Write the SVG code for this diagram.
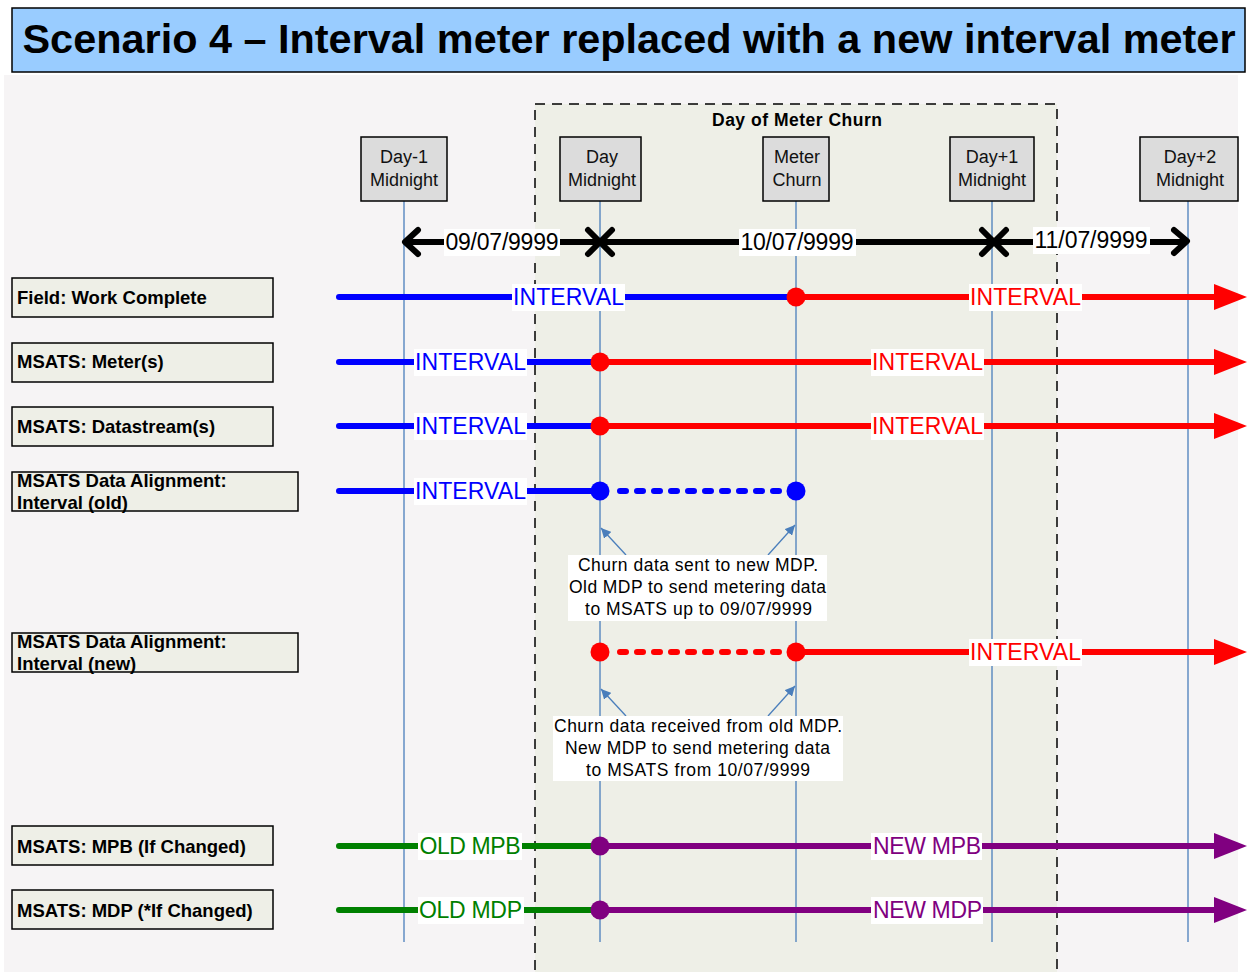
<svg xmlns="http://www.w3.org/2000/svg" width="1247" height="972" viewBox="0 0 1247 972">
<defs>
<style>
.t{font-family:"Liberation Sans",Arial,sans-serif}
.hdr{fill:#dcdcdc;stroke:#000;stroke-width:1.5}
.hdrt{font-family:"Liberation Sans",Arial,sans-serif;font-size:18px;fill:#111;text-anchor:middle}
.lbl{fill:#eeefe7;stroke:#000;stroke-width:1.5}
.lblt{font-family:"Liberation Sans",Arial,sans-serif;font-size:18.5px;font-weight:bold;fill:#000}
.vl{stroke:#4a7ebb;stroke-width:1.3}
.ln{stroke-width:6;fill:none;stroke-linecap:round}
.tag{font-family:"Liberation Sans",Arial,sans-serif;font-size:23px;text-anchor:middle}
.bg{fill:#fff}
.note{font-family:"Liberation Sans",Arial,sans-serif;font-size:17.5px;text-anchor:middle;fill:#000}
.pt{stroke:#4a7ebb;stroke-width:1.3;fill:none}
</style>
<marker id="ah" viewBox="0 0 10 10" refX="10" refY="5" markerWidth="10" markerHeight="10" markerUnits="userSpaceOnUse" orient="auto"><path d="M0,0 L10,5 L0,10 Z" fill="#4a7ebb"/></marker>
</defs>
<rect x="4" y="75" width="1234" height="897" fill="#f6f4f5"/>
<g id="title"><rect x="12" y="8" width="1233" height="64" fill="#99ccff" stroke="#000" stroke-width="1.5"/>
<text x="629" y="53" class="t" font-size="40" font-weight="bold" text-anchor="middle" textLength="1213" lengthAdjust="spacingAndGlyphs">Scenario 4 – Interval meter replaced with a new interval meter</text></g>
<g id="churn-day"><rect x="535" y="104" width="522" height="880" fill="#eeefe7" stroke="#000" stroke-width="1.5" stroke-dasharray="10,7"/>
<text x="797" y="126" class="t" font-size="17.5" font-weight="bold" text-anchor="middle" textLength="170">Day of Meter Churn</text></g>
<g id="verticals">
<line class="vl" x1="404" y1="201" x2="404" y2="942"/>
<line class="vl" x1="600" y1="201" x2="600" y2="942"/>
<line class="vl" x1="796" y1="201" x2="796" y2="942"/>
<line class="vl" x1="992" y1="201" x2="992" y2="942"/>
<line class="vl" x1="1188" y1="201" x2="1188" y2="942"/>
</g>
<g id="h-day-1"><rect class="hdr" x="361" y="137" width="86" height="64"/><text class="hdrt" x="404" y="163">Day-1</text><text class="hdrt" x="404" y="186">Midnight</text></g>
<g id="h-day"><rect class="hdr" x="560" y="137" width="81" height="64"/><text class="hdrt" x="602" y="163">Day</text><text class="hdrt" x="602" y="186">Midnight</text></g>
<g id="h-churn"><rect class="hdr" x="763" y="137" width="66" height="64"/><text class="hdrt" x="797" y="163">Meter</text><text class="hdrt" x="797" y="186">Churn</text></g>
<g id="h-day1"><rect class="hdr" x="950" y="137" width="84" height="64"/><text class="hdrt" x="992" y="163">Day+1</text><text class="hdrt" x="992" y="186">Midnight</text></g>
<g id="h-day2"><rect class="hdr" x="1140" y="137" width="98" height="64"/><text class="hdrt" x="1190" y="163">Day+2</text><text class="hdrt" x="1190" y="186">Midnight</text></g>
<g id="timeline">
<line x1="406" y1="242" x2="1186" y2="242" stroke="#000" stroke-width="6"/>
<polyline points="418,230 405,242 418,254" fill="none" stroke="#000" stroke-width="6" stroke-linecap="round" stroke-linejoin="round"/>
<polyline points="1174,230 1187,241 1174,253" fill="none" stroke="#000" stroke-width="6" stroke-linecap="round" stroke-linejoin="round"/>
<path d="M588,230 L612,254 M612,230 L588,254" stroke="#000" stroke-width="6" stroke-linecap="round"/>
<path d="M982,230 L1006,254 M1006,230 L982,254" stroke="#000" stroke-width="6" stroke-linecap="round"/>
<rect class="bg" x="444" y="229" width="116" height="27"/><text class="tag" x="502" y="250" fill="#000" textLength="113">09/07/9999</text>
<rect class="bg" x="739" y="229" width="117" height="27"/><text class="tag" x="797" y="250" fill="#000" textLength="113">10/07/9999</text>
<rect class="bg" x="1033" y="227" width="117" height="27"/><text class="tag" x="1091" y="248" fill="#000" textLength="113">11/07/9999</text>
</g>
<g id="r-field"><rect class="lbl" x="12" y="278" width="261" height="39"/><text class="lblt" x="17" y="304">Field: Work Complete</text></g>
<g id="r-meter"><rect class="lbl" x="12" y="343" width="261" height="39"/><text class="lblt" x="17" y="368">MSATS: Meter(s)</text></g>
<g id="r-ds"><rect class="lbl" x="12" y="407" width="261" height="39"/><text class="lblt" x="17" y="433">MSATS: Datastream(s)</text></g>
<g id="r-old"><rect class="lbl" x="12" y="472" width="286" height="39"/><text class="lblt" x="17" y="487">MSATS Data Alignment:</text><text class="lblt" x="17" y="509">Interval (old)</text></g>
<g id="r-new"><rect class="lbl" x="12" y="633" width="286" height="39"/><text class="lblt" x="17" y="648">MSATS Data Alignment:</text><text class="lblt" x="17" y="670">Interval (new)</text></g>
<g id="r-mpb"><rect class="lbl" x="12" y="826" width="261" height="39"/><text class="lblt" x="17" y="853">MSATS: MPB (If Changed)</text></g>
<g id="r-mdp"><rect class="lbl" x="12" y="890" width="261" height="39"/><text class="lblt" x="17" y="917">MSATS: MDP (*If Changed)</text></g>
<g id="connectors">
<line class="ln" x1="339" y1="297" x2="796" y2="297" stroke="#0000ff"/>
<line class="ln" x1="796" y1="297" x2="1216" y2="297" stroke="#ff0000" stroke-linecap="butt"/>
<polygon points="1214,284 1247,297 1214,310" fill="#ff0000"/>
<circle cx="796" cy="297" r="9.5" fill="#ff0000"/>
<rect class="bg" x="512" y="284" width="113" height="27"/><text class="tag" x="568.5" y="305" fill="#0000ff" textLength="111">INTERVAL</text>
<rect class="bg" x="969" y="284" width="113" height="27"/><text class="tag" x="1025.5" y="305" fill="#ff0000" textLength="111">INTERVAL</text>
<line class="ln" x1="339" y1="362" x2="600" y2="362" stroke="#0000ff"/>
<line class="ln" x1="600" y1="362" x2="1216" y2="362" stroke="#ff0000" stroke-linecap="butt"/>
<polygon points="1214,349 1247,362 1214,375" fill="#ff0000"/>
<circle cx="600" cy="362" r="9.5" fill="#ff0000"/>
<rect class="bg" x="414" y="349" width="113" height="27"/><text class="tag" x="470.5" y="370" fill="#0000ff" textLength="111">INTERVAL</text>
<rect class="bg" x="871" y="349" width="113" height="27"/><text class="tag" x="927.5" y="370" fill="#ff0000" textLength="111">INTERVAL</text>
<line class="ln" x1="339" y1="426" x2="600" y2="426" stroke="#0000ff"/>
<line class="ln" x1="600" y1="426" x2="1216" y2="426" stroke="#ff0000" stroke-linecap="butt"/>
<polygon points="1214,413 1247,426 1214,439" fill="#ff0000"/>
<circle cx="600" cy="426" r="9.5" fill="#ff0000"/>
<rect class="bg" x="414" y="413" width="113" height="27"/><text class="tag" x="470.5" y="434" fill="#0000ff" textLength="111">INTERVAL</text>
<rect class="bg" x="871" y="413" width="113" height="27"/><text class="tag" x="927.5" y="434" fill="#ff0000" textLength="111">INTERVAL</text>
<line class="ln" x1="339" y1="491" x2="600" y2="491" stroke="#0000ff"/>
<line class="ln" x1="620" y1="491" x2="784" y2="491" stroke="#0000ff" stroke-dasharray="6,11"/>
<circle cx="600" cy="491" r="9.5" fill="#0000ff"/>
<circle cx="796" cy="491" r="9.5" fill="#0000ff"/>
<rect class="bg" x="414" y="478" width="113" height="27"/><text class="tag" x="470.5" y="499" fill="#0000ff" textLength="111">INTERVAL</text>
<line class="ln" x1="620" y1="652" x2="784" y2="652" stroke="#ff0000" stroke-dasharray="6,11"/>
<line class="ln" x1="796" y1="652" x2="1216" y2="652" stroke="#ff0000" stroke-linecap="butt"/>
<polygon points="1214,639 1247,652 1214,665" fill="#ff0000"/>
<circle cx="600" cy="652" r="9.5" fill="#ff0000"/>
<circle cx="796" cy="652" r="9.5" fill="#ff0000"/>
<rect class="bg" x="969" y="639" width="113" height="27"/><text class="tag" x="1025.5" y="660" fill="#ff0000" textLength="111">INTERVAL</text>
<line class="ln" x1="339" y1="846" x2="600" y2="846" stroke="#008000" stroke-width="5.5"/>
<line class="ln" x1="600" y1="846" x2="1216" y2="846" stroke="#800080" stroke-width="5.5" stroke-linecap="butt"/>
<polygon points="1214,833 1247,846 1214,859" fill="#800080"/>
<circle cx="600" cy="846" r="9.5" fill="#800080"/>
<rect class="bg" x="418" y="833" width="104" height="27"/><text class="tag" x="470" y="854" fill="#008000" textLength="101">OLD MPB</text>
<rect class="bg" x="871" y="833" width="111" height="27"/><text class="tag" x="927" y="854" fill="#800080" textLength="108">NEW MPB</text>
<line class="ln" x1="339" y1="910" x2="600" y2="910" stroke="#008000" stroke-width="5.5"/>
<line class="ln" x1="600" y1="910" x2="1216" y2="910" stroke="#800080" stroke-width="5.5" stroke-linecap="butt"/>
<polygon points="1214,897 1247,910 1214,923" fill="#800080"/>
<circle cx="600" cy="910" r="9.5" fill="#800080"/>
<rect class="bg" x="418" y="897" width="106" height="27"/><text class="tag" x="470.5" y="918" fill="#008000" textLength="103">OLD MDP</text>
<rect class="bg" x="871" y="897" width="112" height="27"/><text class="tag" x="927.5" y="918" fill="#800080" textLength="109">NEW MDP</text>
<line class="pt" x1="626" y1="555" x2="601" y2="528" marker-end="url(#ah)"/>
<line class="pt" x1="768" y1="555" x2="795" y2="525" marker-end="url(#ah)"/>
<line class="pt" x1="626" y1="716" x2="601" y2="689" marker-end="url(#ah)"/>
<line class="pt" x1="768" y1="716" x2="795" y2="686" marker-end="url(#ah)"/>
</g>
<g id="note1"><rect class="bg" x="568" y="555" width="259" height="66"/>
<text class="note" x="698" y="571" textLength="240">Churn data sent to new MDP.</text>
<text class="note" x="697.5" y="593" textLength="257">Old MDP to send metering data</text>
<text class="note" x="698.5" y="615" textLength="227">to MSATS up to 09/07/9999</text></g>
<g id="note2"><rect class="bg" x="553" y="716" width="290" height="65"/>
<text class="note" x="698" y="732" textLength="288">Churn data received from old MDP.</text>
<text class="note" x="697.5" y="754" textLength="265">New MDP to send metering data</text>
<text class="note" x="698" y="776" textLength="224">to MSATS from 10/07/9999</text></g>
</svg>
